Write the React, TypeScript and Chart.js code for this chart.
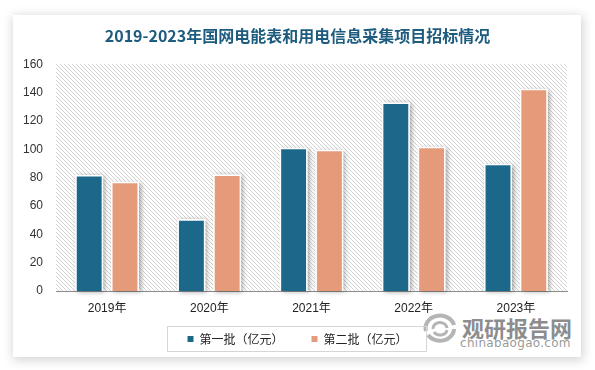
import React, { useEffect, useRef } from "react";
import { Chart, registerables } from "chart.js";

Chart.register(...registerables);

const titleText = "2019-2023年国网电能表和用电信息采集项目招标情况";
const categories = ["2019年", "2020年", "2021年", "2022年", "2023年"];
const seriesNames = ["第一批（亿元）", "第二批（亿元）"];
const batch1 = [81.8, 50.7, 101, 133, 89.7];
const batch2 = [77.1, 82.2, 99.6, 101.7, 142.6];
const yMin = 0;
const yMax = 160;
const yStep = 20;

const BLUE = "#1c688a";
const ORANGE = "#e59b7a";
const LATIN = "'Liberation Sans', 'Noto Sans CJK SC', sans-serif";
const CJK = "'Noto Sans CJK SC', 'Liberation Sans', sans-serif";
const LEGEND_PAD = 28;
const LEGEND_SHIFT = 12;

const hatchPlugin = {
  id: "hatch",
  beforeDraw(chart: any) {
    const { ctx, chartArea: a } = chart;
    const tile = document.createElement("canvas");
    tile.width = 4;
    tile.height = 4;
    const t = tile.getContext("2d")!;
    t.fillStyle = "#d3d3d3";
    for (let i = 0; i < 4; i++) t.fillRect(i, i, 1, 1);
    const pat = ctx.createPattern(tile, "repeat");
    ctx.save();
    ctx.fillStyle = pat;
    ctx.fillRect(a.left, a.top, a.right - a.left, a.bottom - a.top);
    ctx.restore();
  },
};

const shadowPlugin = {
  id: "barShadow",
  beforeDatasetsDraw(chart: any) {
    const { ctx } = chart;
    chart.data.datasets.forEach((_d: any, di: number) => {
      const meta = chart.getDatasetMeta(di);
      meta.data.forEach((el: any) => {
        const { x, y, base, width } = el.getProps(["x", "y", "base", "width"], true);
        ctx.save();
        ctx.shadowColor = "rgba(0,0,0,0.35)";
        ctx.shadowBlur = 5;
        ctx.shadowOffsetX = 2;
        ctx.shadowOffsetY = 1;
        ctx.fillStyle = "#ffffff";
        ctx.fillRect(x - width / 2, y, width, base - y);
        ctx.restore();
      });
    });
  },
};

const legendShiftPlugin = {
  id: "legendShift",
  afterLayout(chart: any) {
    const lg = chart.legend;
    if (!lg) return;
    lg.top -= LEGEND_SHIFT;
    lg.bottom -= LEGEND_SHIFT;
  },
};

const legendBoxPlugin = {
  id: "legendBox",
  afterDraw(chart: any) {
    const lg = chart.legend;
    if (!lg || !lg.legendHitBoxes || !lg.legendHitBoxes.length) return;
    const hb = lg.legendHitBoxes;
    const left = Math.min(...hb.map((h: any) => h.left));
    const right = Math.max(...hb.map((h: any) => h.left + h.width));
    const top = lg.top + LEGEND_PAD;
    const { ctx } = chart;
    ctx.save();
    ctx.strokeStyle = "#d6d6d6";
    ctx.lineWidth = 1;
    ctx.strokeRect(Math.round(left - 20) + 0.5, Math.round(top - 7) + 0.5, Math.round(right - left + 39), 25);
    ctx.restore();
  },
};

export default function App() {
  const ref = useRef<HTMLCanvasElement | null>(null);

  useEffect(() => {
    if (!ref.current) return;
    const chart = new Chart(ref.current, {
      type: "bar",
      data: {
        labels: categories,
        datasets: [
          {
            label: seriesNames[0],
            data: batch1,
            backgroundColor: BLUE,
            borderColor: "#ffffff",
            borderWidth: 1.5,
            categoryPercentage: 0.7,
            barPercentage: 0.78,
          },
          {
            label: seriesNames[1],
            data: batch2,
            backgroundColor: ORANGE,
            borderColor: "#ffffff",
            borderWidth: 1.5,
            categoryPercentage: 0.7,
            barPercentage: 0.78,
          },
        ],
      },
      options: {
        responsive: false,
        animation: false,
        devicePixelRatio: 1,
        layout: { padding: { top: 0, bottom: 15 - LEGEND_SHIFT, left: 0, right: 0 } },
        plugins: {
          title: {
            display: true,
            text: titleText,
            color: "#1d5c7f",
            font: { family: CJK, size: 16, weight: "bold" },
            padding: { top: 26, bottom: 19 },
          },
          legend: {
            display: true,
            position: "bottom",
            labels: {
              boxWidth: 6,
              boxHeight: 6,
              padding: LEGEND_PAD,
              color: "#222222",
              font: { family: CJK, size: 12 },
              generateLabels: (c: any) =>
                Chart.defaults.plugins.legend.labels
                  .generateLabels(c)
                  .map((l: any) => ({ ...l, lineWidth: 0, strokeStyle: "rgba(0,0,0,0)" })),
            },
          },
          tooltip: { enabled: false },
        },
        scales: {
          x: {
            grid: { display: false, drawTicks: false },
            border: { display: true, color: "#8c8c8c", width: 1 },
            ticks: { color: "#222222", font: { family: LATIN, size: 12 }, padding: 10 },
            afterFit: (s: any) => {
              s.height = 14 + LEGEND_SHIFT;
            },
          },
          y: {
            min: yMin,
            max: yMax,
            grid: { display: false, drawTicks: false },
            border: { display: false },
            ticks: {
              stepSize: yStep,
              color: "#333333",
              font: { family: LATIN, size: 12 },
              padding: 13,
            },
            afterFit: (s: any) => {
              s.width = 56;
            },
          },
          yr: {
            type: "linear",
            position: "right",
            display: true,
            grid: { display: false, drawTicks: false },
            border: { display: false },
            ticks: { display: false },
            afterFit: (s: any) => {
              s.width = 28;
            },
          },
        },
      },
      plugins: [hatchPlugin, shadowPlugin, legendShiftPlugin, legendBoxPlugin],
    } as any);
    return () => chart.destroy();
  }, []);

  return (
    <div style={{ position: "fixed", left: 0, top: 0, width: 595, height: 370, background: "#ffffff", overflow: "hidden" }}>
      <div
        style={{
          position: "absolute",
          left: 13,
          top: 15,
          width: 568,
          height: 342,
          background: "#ffffff",
          boxShadow: "1px 2px 10px 1px rgba(0,0,0,0.18)",
        }}
      />
      <svg style={{ position: "absolute", left: 420, top: 311 }} width="40" height="36" viewBox="0 0 40 36">
        <path d="M6 20 A14 12 0 0 1 34 14" stroke="rgba(150,150,150,0.7)" strokeWidth="4" fill="none" />
        <path d="M34 18 A14 12 0 0 1 8 24" stroke="rgba(150,150,150,0.7)" strokeWidth="4" fill="none" />
        <path d="M13 18 A7 6 0 0 1 27 17" stroke="rgba(150,150,150,0.7)" strokeWidth="3" fill="none" />
        <path d="M27 19 A7 6 0 0 1 14 21" stroke="rgba(150,150,150,0.7)" strokeWidth="3" fill="none" />
      </svg>
      <div
        style={{
          position: "absolute",
          left: 462,
          top: 313,
          fontFamily: CJK,
          fontWeight: "bold",
          fontSize: 22,
          lineHeight: "28px",
          color: "rgba(120,120,120,0.85)",
          whiteSpace: "nowrap",
        }}
      >
        观研报告网
      </div>
      <div
        style={{
          position: "absolute",
          left: 460,
          top: 335,
          fontFamily: "'DejaVu Sans', sans-serif",
          fontSize: 12,
          lineHeight: "16px",
          color: "rgba(125,125,125,0.8)",
          letterSpacing: 0.3,
          whiteSpace: "nowrap",
        }}
      >
        chinabaogao.com
      </div>
      <canvas ref={ref} width={595} height={370} style={{ position: "absolute", left: 0, top: 0, display: "block" }} />
    </div>
  );
}
